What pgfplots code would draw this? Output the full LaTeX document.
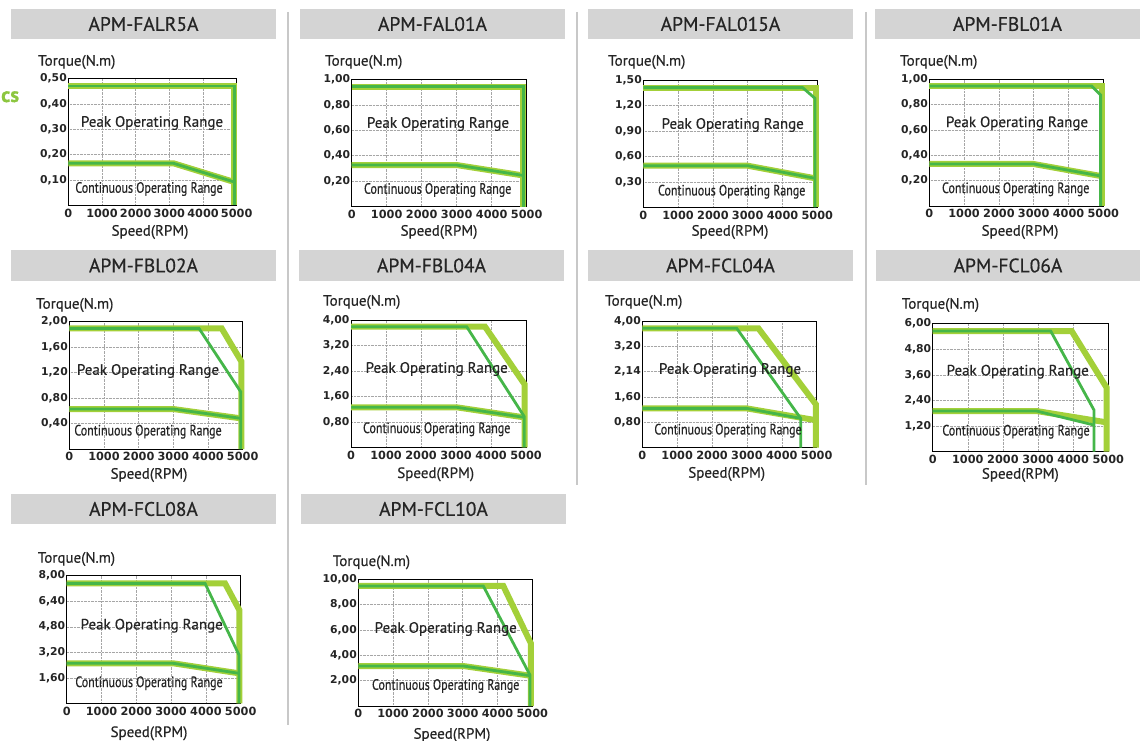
\documentclass[border=0pt]{standalone}
\usepackage{pgfplots}
\pgfplotsset{compat=1.18}
\usepackage{fontspec}
\setmainfont{PT Sans}
\newfontfamily\din[FakeBold=0.5]{PT Sans}
\newfontfamily\dinc[FakeStretch=0.8,FakeBold=0.5]{PT Sans}
\newfontfamily\tickf{DejaVu Sans}
\definecolor{lgreen}{HTML}{A3D039}
\definecolor{dgreen}{HTML}{45B649}
\definecolor{hdr}{HTML}{D4D4D4}
\definecolor{sepc}{HTML}{C8C8C8}
\definecolor{txt}{HTML}{252525}
\definecolor{csg}{HTML}{8CC63F}
\pgfplotsset{
  mp/.style={
    scale only axis, anchor=south west, clip=false,
    xmin=0, xmax=5000, ymin=0,
    xtick={0,1000,2000,3000,4000,5000},
    xticklabels={0,1000,2000,3000,4000,5000},
    grid=major,
    grid style={densely dotted, black!35, line width=0.5pt},
    major tick length=0pt,
    axis line style={black, line width=0.9pt},
    xticklabel style={font=\tickf\bfseries\fontsize{11.3}{12}\selectfont, text=txt},
    yticklabel style={font=\tickf\bfseries\fontsize{10.8}{12}\selectfont, text=txt, xshift=2pt},
  },
  lt/.style={draw=lgreen, line width=6pt, line cap=butt, line join=miter, mark=none},
  dk/.style={draw=dgreen, line width=2.8pt, line cap=butt, line join=miter, mark=none},
}
\newcommand\hdr[5]{%
  \fill[hdr] (#1,#2) rectangle (#3,#4);
  \node[font=\din\fontsize{19.5}{20}\selectfont, text=txt, inner sep=0] at ({(#1+#3)/2},{(#2+#4)/2}) {#5};}
\newcommand\lbls[8]{%
  \node[anchor=west, font=\din\fontsize{15}{15}\selectfont, text=txt, inner sep=0] at (#1,#2) {Torque(N.m)};
  \node[font=\din\fontsize{15}{15}\selectfont, text=txt, inner sep=0] at (#3,#4) {Speed(RPM)};
  \node[font=\din\fontsize{15}{15}\selectfont, text=txt, inner sep=0] at (#5,#6) {Peak Operating Range};
  \node[font=\dinc\fontsize{15}{15}\selectfont, text=txt, inner sep=0] at (#7,#8) {Continuous Operating Range};}
\begin{document}
\begin{tikzpicture}[x=1pt,y=-1pt]
\path[use as bounding box] (0,0) rectangle (1146,741);
% separators
\draw[sepc, line width=1.3pt] (288,12) -- (288,725);
\draw[sepc, line width=1.3pt] (577,12) -- (577,485);
\draw[sepc, line width=1.3pt] (866,12) -- (866,485);
\node[anchor=base west, text=csg, font=\din\bfseries\fontsize{21}{21}\selectfont, inner sep=0] at (1,102) {cs};
% headers
\hdr{11}{9}{276}{39}{APM-FALR5A}
\hdr{300}{9}{565}{39}{APM-FAL01A}
\hdr{588}{9}{853}{39}{APM-FAL015A}
\hdr{875}{9}{1140}{39}{APM-FBL01A}
\hdr{11}{250}{276}{281}{APM-FBL02A}
\hdr{299}{250}{564}{281}{APM-FBL04A}
\hdr{588}{250}{853}{281}{APM-FCL04A}
\hdr{876}{250}{1140}{281}{APM-FCL06A}
\hdr{11}{494}{276}{524}{APM-FCL08A}
\hdr{301}{494}{566}{524}{APM-FCL10A}

% P1
\begin{axis}[mp, at={(68.3pt,-205.3pt)}, width=168.4pt, height=126.6pt, ymax=0.5,
  ytick={0.1,0.2,0.3,0.4,0.5}, yticklabels={{0,10},{0,20},{0,30},{0,40},{0,50}}]
\addplot[lt] coordinates {(0,0.471) (4930,0.471) (4930,0)};
\addplot[lt] coordinates {(0,0.166) (3120,0.166) (4930,0.092)};
\addplot[dk] coordinates {(0,0.471) (4930,0.471) (4930,0)};
\addplot[dk] coordinates {(0,0.166) (3120,0.166) (4930,0.092)};
\end{axis}
\lbls{38}{62}{150}{232}{152}{123}{149}{189}

% P2
\begin{axis}[mp, at={(351.7pt,-206.7pt)}, width=175pt, height=127.4pt, ymax=1,
  ytick={0.2,0.4,0.6,0.8,1.0}, yticklabels={{0,20},{0,40},{0,60},{0,80},{1,00}}]
\addplot[lt] coordinates {(0,0.942) (4905,0.942) (4905,0)};
\addplot[lt] coordinates {(0,0.327) (3000,0.327) (4905,0.245)};
\addplot[dk] coordinates {(0,0.942) (4905,0.942) (4905,0)};
\addplot[dk] coordinates {(0,0.327) (3000,0.327) (4905,0.245)};
\end{axis}
\lbls{325}{62}{439}{232}{438}{124}{437.7}{190}

% P3
\begin{axis}[mp, at={(643.3pt,-207.3pt)}, width=174pt, height=127.3pt, ymax=1.5,
  ytick={0.3,0.6,0.9,1.2,1.5}, yticklabels={{0,30},{0,60},{0,90},{1,20},{1,50}}]
\addplot[lt] coordinates {(0,1.41) (4975,1.41) (4975,0)};
\addplot[lt] coordinates {(0,0.49) (3000,0.49) (4933,0.342)};
\addplot[dk] coordinates {(0,1.41) (4579,1.41) (4933,1.284) (4933,0)};
\addplot[dk] coordinates {(0,0.49) (3000,0.49) (4933,0.342)};
\end{axis}
\lbls{608}{62}{730}{232}{732.7}{125}{731.7}{191.7}

% P4
\begin{axis}[mp, at={(929.3pt,-206pt)}, width=174pt, height=126.7pt, ymax=1,
  ytick={0.2,0.4,0.6,0.8,1.0}, yticklabels={{0,20},{0,40},{0,60},{0,80},{1,00}}]
\addplot[lt] coordinates {(0,0.947) (4970,0.947) (4970,0)};
\addplot[lt] coordinates {(0,0.332) (2989,0.332) (4923,0.237)};
\addplot[dk] coordinates {(0,0.947) (4665,0.947) (4923,0.876) (4923,0)};
\addplot[dk] coordinates {(0,0.332) (2989,0.332) (4923,0.237)};
\end{axis}
\lbls{900}{62}{1020}{232}{1017}{123.3}{1015.7}{189.3}

% P5
\begin{axis}[mp, at={(69.3pt,-449pt)}, width=173.4pt, height=127.3pt, ymax=2,
  ytick={0.4,0.8,1.2,1.6,2.0}, yticklabels={{0,40},{0,80},{1,20},{1,60},{2,00}}]
\addplot[lt] coordinates {(0,1.895) (4394,1.895) (4965,1.372) (4965,0)};
\addplot[lt] coordinates {(0,0.628) (3000,0.628) (4942,0.482)};
\addplot[dk] coordinates {(0,1.895) (3740,1.895) (4942,0.90) (4942,0)};
\addplot[dk] coordinates {(0,0.628) (3000,0.628) (4942,0.482)};
\end{axis}
\lbls{36}{305}{149}{475}{148}{371}{148}{431.7}

% P6
\begin{axis}[mp, at={(351pt,-447.3pt)}, width=175pt, height=127.3pt, ymax=4,
  ytick={0.8,1.6,2.4,3.2,4.0}, yticklabels={{0,80},{1,60},{2,40},{3,20},{4,00}}]
\addplot[lt] coordinates {(0,3.79) (3829,3.79) (4960,1.98) (4960,0)};
\addplot[lt] coordinates {(0,1.257) (3019,1.257) (4952,0.94)};
\addplot[dk] coordinates {(0,3.79) (3305,3.79) (4952,0.963) (4952,0)};
\addplot[dk] coordinates {(0,1.257) (3019,1.257) (4952,0.94)};
\end{axis}
\lbls{323}{302}{435.7}{474.3}{436.7}{369}{436.7}{429.3}

% P7
\begin{axis}[mp, at={(642.3pt,-447.7pt)}, width=174.4pt, height=126.7pt, ymax=4,
  ytick={0.8,1.6,2.4,3.2,4.0}, yticklabels={{0,80},{1,60},{2,14},{3,20},{4,00}}]
\addplot[lt] coordinates {(0,3.77) (3327,3.77) (4975,1.37) (4975,0)};
\addplot[lt] coordinates {(0,1.242) (2992,1.242) (4541,0.95) (4975,0.87)};
\addplot[dk] coordinates {(0,3.77) (2706,3.77) (4541,0.926) (4541,0)};
\addplot[dk] coordinates {(0,1.242) (2992,1.242) (4541,0.926)};
\end{axis}
\lbls{605}{302}{726.7}{474}{730}{370}{728}{430.7}

% P8
\begin{axis}[mp, at={(932.7pt,-451.7pt)}, width=175.6pt, height=128pt, ymax=6,
  ytick={1.2,2.4,3.6,4.8,6.0}, yticklabels={{1,20},{2,40},{3,60},{4,80},{6,00}}]
\addplot[lt] coordinates {(0,5.656) (3956,5.656) (4953,3.0) (4953,0)};
\addplot[lt] coordinates {(0,1.906) (2960,1.906) (4953,1.375)};
\addplot[dk] coordinates {(0,5.656) (3359,5.656) (4592,1.953) (4592,0)};
\addplot[dk] coordinates {(0,1.906) (2960,1.906) (4592,1.25)};
\end{axis}
\lbls{901.7}{305}{1020.3}{475}{1017.7}{371.7}{1016}{431.7}

% P9
\begin{axis}[mp, at={(66.7pt,-703.3pt)}, width=174pt, height=127.6pt, ymax=8,
  ytick={1.6,3.2,4.8,6.4,8.0}, yticklabels={{1,60},{3,20},{4,80},{6,40},{8,00}}]
\addplot[lt] coordinates {(0,7.52) (4550,7.52) (4960,5.85) (4960,0)};
\addplot[lt] coordinates {(0,2.507) (3065,2.507) (4952,1.88)};
\addplot[dk] coordinates {(0,7.52) (3975,7.52) (4952,3.03) (4952,0)};
\addplot[dk] coordinates {(0,2.507) (3065,2.507) (4952,1.88)};
\end{axis}
\lbls{37.7}{559}{149}{733.3}{151.7}{625.7}{149}{683.3}

% P10
\begin{axis}[mp, at={(358.3pt,-706pt)}, width=174pt, height=127pt, ymax=10,
  ytick={2,4,6,8,10}, yticklabels={{2,00},{4,00},{6,00},{8,00},{10,00}}]
\addplot[lt] coordinates {(0,9.45) (4167,9.45) (4960,4.93) (4960,0)};
\addplot[lt] coordinates {(0,3.15) (3017,3.15) (4933,2.39)};
\addplot[dk] coordinates {(0,9.45) (3592,9.45) (4933,2.44) (4933,0)};
\addplot[dk] coordinates {(0,3.15) (3017,3.15) (4933,2.39)};
\end{axis}
\lbls{332.7}{562.3}{452}{735}{445.7}{629}{445.7}{686}
\end{tikzpicture}
\end{document}
